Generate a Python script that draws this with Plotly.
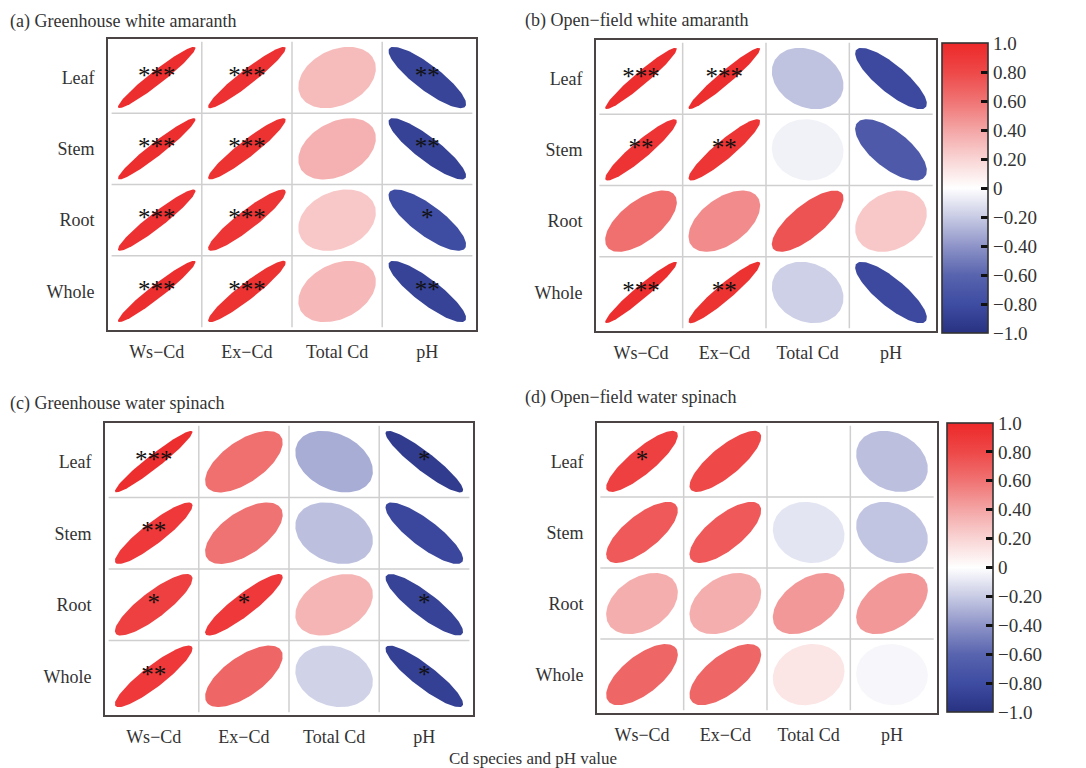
import numpy as np
import plotly.graph_objects as go
from plotly.colors import sample_colorscale

# page body has an 8px margin; the figure is shifted by it
OFF = 8
W, H = 1086 - OFF, 768 - OFF

# ---------------- data ----------------
rows = ["Leaf", "Stem", "Root", "Whole"]
cols = ["Ws\u2212Cd", "Ex\u2212Cd", "Total Cd", "pH"]

titles = ["(a) Greenhouse white amaranth", "(b) Open\u2212field white amaranth",
          "(c) Greenhouse water spinach", "(d) Open\u2212field water spinach"]

r_a = [[0.96, 0.95, 0.30, -0.86],
       [0.96, 0.94, 0.35, -0.88],
       [0.95, 0.92, 0.25, -0.80],
       [0.96, 0.94, 0.32, -0.87]]
s_a = [["***", "***", "", "**"],
       ["***", "***", "", "**"],
       ["***", "***", "", "*"],
       ["***", "***", "", "**"]]

r_b = [[0.96, 0.96, -0.23, -0.82],
       [0.93, 0.92, -0.05, -0.68],
       [0.62, 0.50, 0.75, 0.25],
       [0.96, 0.94, -0.18, -0.82]]
s_b = [["***", "***", "", ""],
       ["**", "**", "", ""],
       ["", "", "", ""],
       ["***", "**", "", ""]]

r_c = [[0.96, 0.62, -0.31, -0.92],
       [0.90, 0.60, -0.24, -0.84],
       [0.85, 0.90, 0.33, -0.87],
       [0.90, 0.66, -0.17, -0.89]]
s_c = [["***", "", "", "*"],
       ["**", "", "", ""],
       ["*", "*", "", "*"],
       ["**", "", "", "*"]]

r_d = [[0.85, 0.80, 0.00, -0.24],
       [0.72, 0.72, -0.10, -0.22],
       [0.36, 0.36, 0.45, 0.45],
       [0.66, 0.66, 0.12, -0.03]]
s_d = [["*", "", "", ""],
       ["", "", "", ""],
       ["", "", "", ""],
       ["", "", "", ""]]

cb_vals = [-1.0, -0.8, -0.6, -0.4, -0.2, 0.0, 0.2, 0.4, 0.6, 0.8, 1.0]
cb_text = ["\u22121.0", "\u22120.80", "\u22120.60", "\u22120.40", "\u22120.20", "0",
           "0.20", "0.40", "0.60", "0.80", "1.0"]

# ---------------- style ----------------
FONT = "Liberation Serif"
cscale = [
    [0.0, "rgb(40,50,130)"],
    [0.1, "rgb(62,76,162)"],
    [0.2, "rgb(88,100,174)"],
    [0.3, "rgb(142,148,200)"],
    [0.4, "rgb(200,203,228)"],
    [0.5, "rgb(255,255,255)"],
    [0.6, "rgb(249,212,212)"],
    [0.7, "rgb(244,165,165)"],
    [0.8, "rgb(240,115,115)"],
    [0.9, "rgb(238,72,72)"],
    [1.0, "rgb(237,40,41)"],
]


def px(x):
    return (x - OFF) / W


def py(y):
    return 1 - (y - OFF) / H


panels = [
    dict(r=r_a, s=s_a, dx=[108, 476], dy=[39, 330], title=titles[0], tpos=(8, 22), cb=None),
    dict(r=r_b, s=s_b, dx=[596, 936], dy=[40, 331], title=titles[1], tpos=(523, 20),
         cb=dict(x0=942, y0=43, y1=333)),
    dict(r=r_c, s=s_c, dx=[105, 473], dy=[423, 715], title=titles[2], tpos=(8, 403), cb=None),
    dict(r=r_d, s=s_d, dx=[597, 937], dy=[423, 713], title=titles[3], tpos=(523, 397),
         cb=dict(x0=947, y0=423, y1=712)),
]

fig = go.Figure()
layout = dict(width=W, height=H, margin=dict(l=0, r=0, t=0, b=0),
              paper_bgcolor="white", plot_bgcolor="white", showlegend=False,
              font=dict(family=FONT, color="#222"))
annotations = []
shapes = []

k = np.linspace(0, 2 * np.pi, 120)
SC = 0.86
nr, nc = len(rows), len(cols)

for pi, p in enumerate(panels):
    sfx = "" if pi == 0 else str(pi + 1)
    xa, ya = "x" + sfx, "y" + sfx
    dom_x = [px(p["dx"][0]), px(p["dx"][1])]
    dom_y = [py(p["dy"][1]), py(p["dy"][0])]
    layout["xaxis" + sfx] = dict(domain=dom_x, range=[0.46, nc + 0.54], anchor=ya,
                                 tickvals=list(range(1, nc + 1)), ticktext=cols,
                                 showgrid=False, zeroline=False, showline=True, mirror=True,
                                 linecolor="#4a4444", linewidth=1.6,
                                 ticks="outside", ticklen=5, tickcolor="rgba(0,0,0,0)",
                                 tickfont=dict(family=FONT, size=18, color="#333"),
                                 fixedrange=True)
    layout["yaxis" + sfx] = dict(domain=dom_y, range=[0.46, nr + 0.54], anchor=xa,
                                 tickvals=list(range(1, nr + 1)), ticktext=rows[::-1],
                                 showgrid=False, zeroline=False, showline=True, mirror=True,
                                 linecolor="#4a4444", linewidth=1.6,
                                 ticks="outside", ticklen=8, tickcolor="rgba(0,0,0,0)",
                                 tickfont=dict(family=FONT, size=18, color="#333"),
                                 fixedrange=True)
    # grid lines between cells
    for g in range(1, nc):
        shapes.append(dict(type="line", xref=xa, yref=ya, x0=g + 0.5, x1=g + 0.5,
                           y0=0.5, y1=nr + 0.5, line=dict(color="#cfcfcf", width=1.5), layer="below"))
    for g in range(1, nr):
        shapes.append(dict(type="line", xref=xa, yref=ya, y0=g + 0.5, y1=g + 0.5,
                           x0=0.5, x1=nc + 0.5, line=dict(color="#cfcfcf", width=1.5), layer="below"))
    # ellipses
    sx, sy, st = [], [], []
    for i, rname in enumerate(rows):
        for j, cname in enumerate(cols):
            rho = p["r"][i][j]
            d = np.arccos(np.clip(rho, -0.999, 0.999))
            ex = np.cos(k + d / 2) / 2 * SC
            ey = np.cos(k - d / 2) / 2 * SC
            cx, cy = j + 1, nr - i
            col = sample_colorscale(cscale, [(rho + 1) / 2])[0]
            fig.add_trace(go.Scatter(x=cx + ex, y=cy + ey, mode="lines", fill="toself",
                                     fillcolor=col, line=dict(width=0, color=col),
                                     hoverinfo="skip", xaxis=xa, yaxis=ya))
            if p["s"][i][j]:
                sx.append(cx)
                sy.append(cy)
                st.append(p["s"][i][j])
    if st:
        fig.add_trace(go.Scatter(x=sx, y=sy, text=st, mode="text", textposition="middle center",
                                 textfont=dict(family=FONT, size=25, color="#111"),
                                 hoverinfo="skip", xaxis=xa, yaxis=ya))
    # colorbar
    if p["cb"]:
        cb = p["cb"]
        fig.add_trace(go.Scatter(
            x=[1], y=[1], mode="markers", xaxis=xa, yaxis=ya, hoverinfo="skip",
            marker=dict(size=0.1, opacity=0, color=[0], colorscale=cscale, cmin=-1, cmax=1,
                        showscale=True,
                        colorbar=dict(x=px(cb["x0"]), xanchor="left", xpad=0,
                                      y=py((cb["y0"] + cb["y1"]) / 2), yanchor="middle",
                                      len=(cb["y1"] - cb["y0"]) / H, lenmode="fraction", ypad=0,
                                      thickness=46, thicknessmode="pixels",
                                      outlinewidth=1.6, outlinecolor="#333",
                                      tickvals=cb_vals, ticktext=cb_text,
                                      ticks="inside", ticklen=7, tickwidth=2.5, tickcolor="#111",
                                      tickfont=dict(family=FONT, size=19, color="#333")))))
    annotations.append(dict(text=p["title"], x=px(p["tpos"][0]), y=py(p["tpos"][1]),
                            xref="paper", yref="paper", xanchor="left", yanchor="middle",
                            showarrow=False, font=dict(family=FONT, size=18, color="#333")))

annotations.append(dict(text="Cd species and pH value", x=px(533), y=py(758),
                        xref="paper", yref="paper", xanchor="center", yanchor="middle",
                        showarrow=False, font=dict(family=FONT, size=17, color="#333")))

layout["annotations"] = annotations
layout["shapes"] = shapes
fig.update_layout(**layout)
fig.write_html("out.html")
